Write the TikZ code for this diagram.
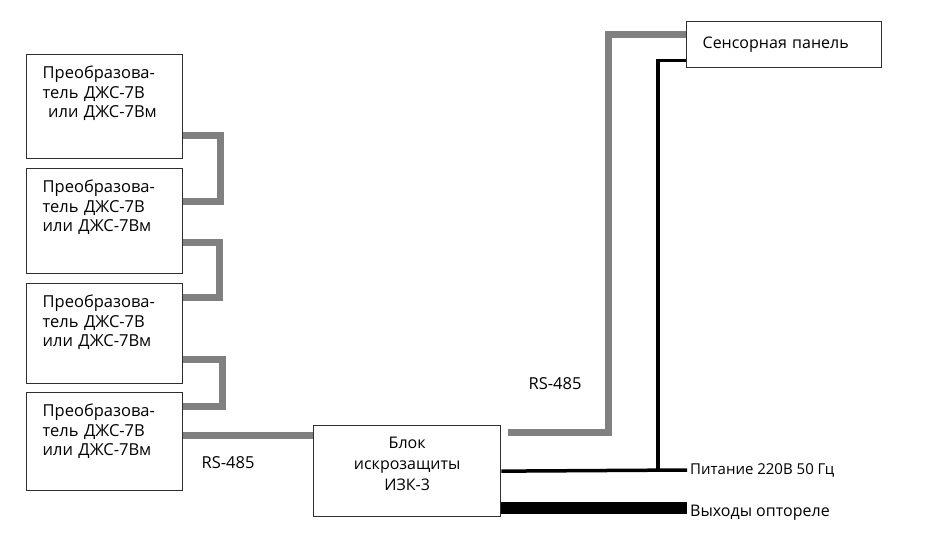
\documentclass[tikz,border=0pt]{standalone}
\usepackage{fontspec}
\setmainfont{Open Sans}
\usetikzlibrary{positioning}
\definecolor{BusGray}{HTML}{808080}
\definecolor{BoxLine}{HTML}{2E2E2E}

\begin{document}
\begin{tikzpicture}[x=1pt,y=-1pt,
      conv/.style={draw=BoxLine,line width=1.3pt,anchor=north west,minimum width=156pt,
                   text width=124pt,align=left,inner xsep=16pt,inner ysep=0pt,text height=24pt,
                   font=\fontsize{16.5}{19.5}\selectfont},
      unit/.style={draw=BoxLine,line width=1.3pt,inner ysep=0pt,font=\fontsize{16}{21}\selectfont},
      lbl/.style={font=\fontsize{15}{18}\selectfont,inner sep=3pt},
      bus/.style={BusGray,line width=7pt},
      wire/.style={black,line width=3.5pt},
      relay/.style={black,line width=11.5pt}]
    \useasboundingbox (0,0) rectangle (952,540);
    % converters
    \node[conv,text depth=80pt] (c1) at (26,54)  {Преобразова-\\тель ДЖС-7В\\\ или ДЖС-7Вм};
    \node[conv,text depth=81pt] (c2) at (26,168) {Преобразова-\\тель ДЖС-7В\\или ДЖС-7Вм};
    \node[conv,text depth=76pt] (c3) at (26,283) {Преобразова-\\тель ДЖС-7В\\или ДЖС-7Вм};
    \node[conv,text depth=74pt] (c4) at (26,392) {Преобразова-\\тель ДЖС-7В\\или ДЖС-7Вм};
    % barrier and panel
    \node[unit,anchor=north west,minimum width=187pt,text width=165pt,align=center,
          text height=23pt,text depth=68pt] (izk) at (313,425) {Блок\\искрозащиты\\ИЗК-3};
    \node[unit,anchor=north west,minimum width=195pt,minimum height=46pt,text width=163pt,
          align=left,inner xsep=16pt] (pan) at (686,21) {Сенсорная панель};
    \node[lbl,anchor=west] (pwr) at (687,470) {Питание 220В 50 Гц};
    \node[lbl,anchor=west,font=\fontsize{16}{18}\selectfont] (rel) at (687,513) {Выходы оптореле};
    \node[lbl,font=\fontsize{16.5}{18}\selectfont] (rs1) at (228,463) {RS-485};
    \node[lbl,font=\fontsize{16.5}{18}\selectfont] (rs2) at (555,384) {RS-485};
    \coordinate (tap) at (658,470);
    % RS-485 chain
    \draw[bus] ([yshift=-29pt]c1.east) -- ++(37,0) |- ([yshift=20pt]c2.east);
    \draw[bus] ([yshift=-21pt]c2.east) -- ++(36,0) |- ([yshift=36.5pt]c3.east);
    \draw[bus] ([yshift=-26pt]c3.east) -- ++(39,0) |- ([yshift=35.5pt]c4.east);
    \draw[bus] ([yshift=6pt]c4.east) -- ([yshift=6pt]c4.east -| izk.west);
    \draw[bus] ([shift={(7pt,38.5pt)}]izk.east) -- ++(100,0) |- ([yshift=10.5pt]pan.west);
    % power and outputs
    \draw[wire] (izk.east) -- (pwr.west);
    \draw[wire] ([yshift=-16pt]pan.west) -| (tap);
    \draw[relay] ([yshift=-37pt]izk.east) -- ([yshift=-37pt]izk.east -| rel.west);
\end{tikzpicture}
\end{document}
